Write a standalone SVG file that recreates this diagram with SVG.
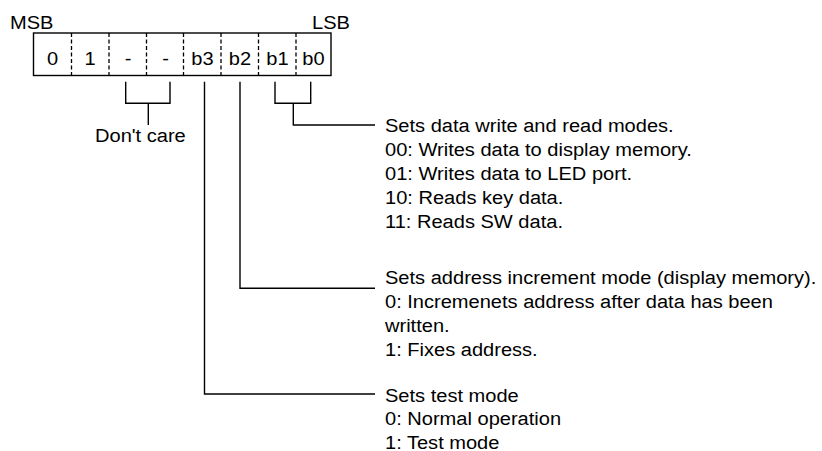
<svg xmlns="http://www.w3.org/2000/svg" width="822" height="451" viewBox="0 0 822 451">
<style>
text{font-family:"Liberation Sans",Arial,sans-serif;font-size:17.6px;fill:#000}
.c{text-anchor:middle}
.ln{fill:none;stroke:#000;stroke-width:1.4}
.dv{stroke:#000;stroke-width:1.3;stroke-dasharray:4 2.5}
</style>
<rect width="822" height="451" fill="#fff"/>
<g id="register">
<rect x="33.5" y="33" width="297.5" height="42.5" class="ln"/>
<line x1="71.5" y1="33" x2="71.5" y2="75.5" class="dv"/>
<line x1="109" y1="33" x2="109" y2="75.5" class="dv"/>
<line x1="146.5" y1="33" x2="146.5" y2="75.5" class="dv"/>
<line x1="183.5" y1="33" x2="183.5" y2="75.5" class="dv"/>
<line x1="221" y1="33" x2="221" y2="75.5" class="dv"/>
<line x1="258.5" y1="33" x2="258.5" y2="75.5" class="dv"/>
<line x1="296" y1="33" x2="296" y2="75.5" class="dv"/>
<text class="c" transform="matrix(1.14 0 0 1 52.5 65)">0</text>
<text class="c" transform="matrix(1.14 0 0 1 90 65)">1</text>
<text class="c" transform="matrix(1.14 0 0 1 128 65)">-</text>
<text class="c" transform="matrix(1.14 0 0 1 165.5 65)">-</text>
<text class="c" transform="matrix(1.14 0 0 1 202.5 65)">b3</text>
<text class="c" transform="matrix(1.14 0 0 1 240 65)">b2</text>
<text class="c" transform="matrix(1.14 0 0 1 277.5 65)">b1</text>
<text class="c" transform="matrix(1.14 0 0 1 313.5 65)">b0</text>
<text transform="matrix(1.14 0 0 1 10 29)">MSB</text>
<text style="text-anchor:end" transform="matrix(1.14 0 0 1 350 29)">LSB</text>
</g>
<g id="connectors">
<path class="ln" d="M125.7 81.7V103.3H170V81.7M148.3 103.3V125"/>
<path class="ln" d="M275 81.7V103.3H310.7V81.7M293.3 103.3V125H375"/>
<path class="ln" d="M240 81.7V288.3H375"/>
<path class="ln" d="M204.5 81.7V394H375"/>
</g>
<g id="dontcare">
<text transform="matrix(1.14 0 0 1 95 141.7)">Don't care</text>
</g>
<g id="b1b0-desc">
<text transform="matrix(1.14 0 0 1 385 132)">Sets data write and read modes.</text>
<text transform="matrix(1.14 0 0 1 385 156)">00: Writes data to display memory.</text>
<text transform="matrix(1.14 0 0 1 385 180)">01: Writes data to LED port.</text>
<text transform="matrix(1.14 0 0 1 385 204)">10: Reads key data.</text>
<text transform="matrix(1.14 0 0 1 385 228)">11: Reads SW data.</text>
</g>
<g id="b2-desc">
<text transform="matrix(1.14 0 0 1 385 283.5)">Sets address increment mode (display memory).</text>
<text transform="matrix(1.14 0 0 1 385 307.5)">0: Incremenets address after data has been</text>
<text transform="matrix(1.14 0 0 1 385 331.5)">written.</text>
<text transform="matrix(1.14 0 0 1 385 355.5)">1: Fixes address.</text>
</g>
<g id="b3-desc">
<text transform="matrix(1.14 0 0 1 385 401.5)">Sets test mode</text>
<text transform="matrix(1.14 0 0 1 385 425)">0: Normal operation</text>
<text transform="matrix(1.14 0 0 1 385 448.5)">1: Test mode</text>
</g>
</svg>
